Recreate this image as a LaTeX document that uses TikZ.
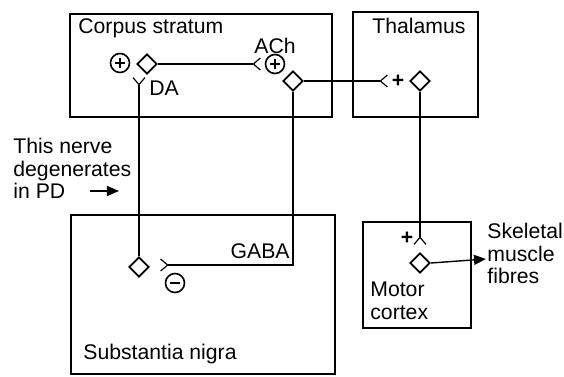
\documentclass[tikz,border=0pt]{standalone}
\usepackage{fontspec}
\setmainfont{Liberation Sans}
\usetikzlibrary{arrows.meta, shapes.geometric}

\begin{document}
\begin{tikzpicture}[
    x=0.5pt, y=-0.5pt,
    font=\fontsize{10.6}{11.3}\selectfont,
    region/.style={draw=black, line width=0.7pt},
    cell/.style={diamond, draw, line width=0.9pt, inner sep=0pt, minimum size=10pt},
    sign/.style={circle, draw, line width=0.8pt, inner sep=0pt, minimum size=9.5pt},
    plussign/.style={sign, path picture={
        \draw[line width=1.1pt] ([xshift=-2.4pt]path picture bounding box.center) -- ([xshift=2.4pt]path picture bounding box.center);
        \draw[line width=1.1pt] ([yshift=-2.4pt]path picture bounding box.center) -- ([yshift=2.4pt]path picture bounding box.center);}},
    minussign/.style={sign, path picture={
        \draw[line width=1.1pt] ([xshift=-2.4pt]path picture bounding box.center) -- ([xshift=2.4pt]path picture bounding box.center);}},
    txt/.style={inner sep=0pt},
    syn/.style={-{Straight Barb[reversed, length=3.5pt, width=6pt]}, line width=0.6pt},
    arr/.style={-{Triangle[length=6pt, width=5pt]}, line width=0.7pt}
  ]
    \useasboundingbox (0,0) rectangle (564,376);
    % brain regions
    \draw[region] (70,14) rectangle (332,117);
    \draw[region] (353,12) rectangle (478,117);
    \draw[region] (71,215) rectangle (335,374);
    \draw[region] (363,222) rectangle (471,328);
    \node[txt, anchor=base west] (cslab) at (78,33) {Corpus stratum};
    \node[txt, anchor=base west] (thlab) at (372,33) {Thalamus};
    \node[txt, anchor=base west] (snlab) at (83,359) {Substantia nigra};
    \node[txt, anchor=north west, align=left] (mclab) at (370,282) {Motor\\cortex};
    % cells and receptors
    \node[plussign] (dapos) at (120,63) {};
    \node[cell] (csdiam) at (147,64) {};
    \node[plussign] (achpos) at (275,64) {};
    \node[txt, anchor=base] (achlab) at (275,53) {ACh};
    \node[cell] (csout) at (293,81) {};
    \node[txt, anchor=base west] (dalab) at (149,95) {DA};
    \node[txt] (thplus) at (398,81) {\textbf{+}};
    \node[cell] (thdiam) at (420,81) {};
    \node[cell] (sndiam) at (139,267) {};
    \node[minussign] (gabaneg) at (175,283) {};
    \node[txt, anchor=base east] (gabalab) at (290,258) {GABA};
    \node[txt] (mcplus) at (407,238) {\textbf{+}};
    \node[cell] (mcdiam) at (420,263) {};
    \node[txt, anchor=north west, align=left] (skel) at (487,223) {Skeletal\\muscle\\fibres};
    \node[txt, anchor=north west, align=left] (pdnote) at (13,138) {This nerve\\degenerates\\in PD};
    % synapse ends
    \coordinate (achin) at (261,64);
    \coordinate (thin) at (388,81);
    \coordinate (dain) at (139,77);
    \coordinate (gabain) at (160,265);
    \coordinate (mcin) at (420,245);
    \coordinate (skelin) at (486,259);
    \coordinate (pdtail) at (90,191);
    \coordinate (pdhead) at (119,191);
    % pathways
    \draw[syn] (csdiam.east) -- (achin);
    \draw[syn] (csout.east) -- (thin);
    \draw[syn] (sndiam.north) -- (dain);
    \draw[syn] (csout.south) |- (gabain);
    \draw[syn] (thdiam.south) -- (mcin);
    \draw[arr] (mcdiam.east) -- (skelin);
    \draw[arr] (pdtail) -- (pdhead);
  \end{tikzpicture}
\end{document}
